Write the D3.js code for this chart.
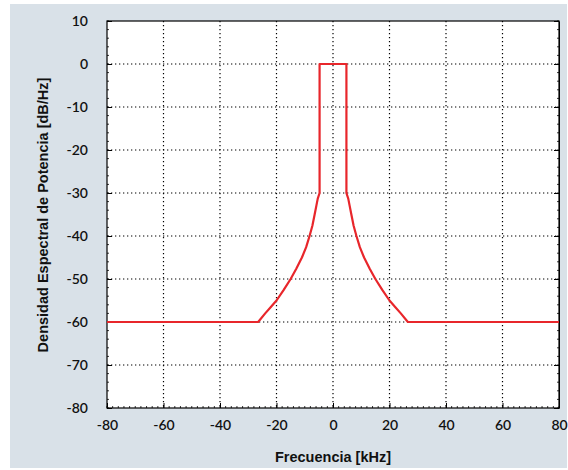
<!DOCTYPE html>
<html>
<head>
<meta charset="utf-8">
<script src="https://cdn.jsdelivr.net/npm/d3@7"></script>
<style>
  body { margin: 0; background: #fff; }
  svg text { fill: #111; }
</style>
</head>
<body>
<svg id="chart" width="568" height="470"></svg>
<script>
"use strict";

// mask (frequency in kHz, PSD in dB/Hz)
var freqs = [-80, -26.5, -24, -22, -20, -17.5, -15, -13, -11, -9.5, -8.3, -7.3, -6.5, -5.9, -5.4, -4.75, -4.75,
             4.75, 4.75, 5.4, 5.9, 6.5, 7.3, 8.3, 9.5, 11, 13, 15, 17.5, 20, 22, 24, 26.5, 80];
var psd   = [-60, -60, -58, -56.5, -55, -52.6, -50, -47.6, -45, -42.6, -40, -37.6, -35, -33, -31.3, -30, 0,
             0, -30, -31.3, -33, -35, -37.6, -40, -42.6, -45, -47.6, -50, -52.6, -55, -56.5, -58, -60, -60];

var xTicks = [-80, -60, -40, -20, 0, 20, 40, 60, 80];
var yTicks = [10, 0, -10, -20, -30, -40, -50, -60, -70, -80];

var svg = d3.select("#chart");
var margin = {left: 107, top: 21, right: 559, bottom: 408};

svg.append("rect")
  .attr("x", 10).attr("y", 4).attr("width", 557).attr("height", 464)
  .attr("fill", "#d9e1e8");

var x = d3.scaleLinear().domain([-80, 80]).range([margin.left, margin.right]);
var y = d3.scaleLinear().domain([-80, 10]).range([margin.bottom, margin.top]);

svg.append("rect")
  .attr("x", margin.left).attr("y", margin.top)
  .attr("width", margin.right - margin.left).attr("height", margin.bottom - margin.top)
  .attr("fill", "#fff");

// dotted grid
var grid = svg.append("g").attr("stroke", "#000").attr("stroke-width", 1.2).attr("stroke-dasharray", "1.3,2.7");
grid.selectAll(".gx").data(xTicks.slice(1, -1)).enter().append("line")
  .attr("x1", d => x(d)).attr("x2", d => x(d))
  .attr("y1", margin.top).attr("y2", margin.bottom);
grid.selectAll(".gy").data(yTicks.slice(1, -1)).enter().append("line")
  .attr("y1", d => y(d)).attr("y2", d => y(d))
  .attr("x1", margin.left).attr("x2", margin.right);

// minor ticks
var minor = svg.append("g").attr("stroke", "#000").attr("stroke-width", 0.8);
minor.selectAll(".mx").data(d3.range(-80, 81, 2)).enter().append("line")
  .attr("x1", d => x(d)).attr("x2", d => x(d))
  .attr("y1", margin.bottom).attr("y2", margin.bottom - 2);
minor.selectAll(".my").data(d3.range(-80, 11, 2)).enter().append("line")
  .attr("y1", d => y(d)).attr("y2", d => y(d))
  .attr("x1", margin.left).attr("x2", margin.left + 2);
minor.selectAll(".myr").data(d3.range(-80, 11, 2)).enter().append("line")
  .attr("y1", d => y(d)).attr("y2", d => y(d))
  .attr("x1", margin.right).attr("x2", margin.right - 2);

// axes with inward ticks, plain hyphen for negatives
var fmt = d => String(d);
var xAxis = svg.append("g").attr("transform", "translate(0," + margin.bottom + ")")
  .call(d3.axisBottom(x).tickValues(xTicks).tickFormat(fmt).tickSizeInner(-5).tickSizeOuter(0).tickPadding(12));
var yAxis = svg.append("g").attr("transform", "translate(" + margin.left + ",0)")
  .call(d3.axisLeft(y).tickValues(yTicks).tickFormat(fmt).tickSizeInner(-5).tickSizeOuter(0).tickPadding(19));
svg.append("g").attr("transform", "translate(" + margin.right + ",0)")
  .call(d3.axisRight(y).tickValues(yTicks).tickSizeInner(-5).tickSizeOuter(0).tickFormat(""));
[xAxis, yAxis].forEach(function(a){
  a.selectAll("text").style("font-family", "Lato, 'Open Sans', sans-serif")
    .style("font-size", "14px").style("font-weight", "600").attr("fill", "#111");
  a.select(".domain").remove();
});
svg.selectAll(".tick line").attr("stroke", "#000");

svg.append("rect")
  .attr("x", margin.left).attr("y", margin.top)
  .attr("width", margin.right - margin.left).attr("height", margin.bottom - margin.top)
  .attr("fill", "none").attr("stroke", "#000").attr("stroke-width", 1.2);

// mask line
var line = d3.line().x(d => x(d[0])).y(d => y(d[1]));
svg.append("path")
  .datum(d3.zip(freqs, psd))
  .attr("d", line)
  .attr("fill", "none").attr("stroke", "#e8262b").attr("stroke-width", 2.2)
  .attr("stroke-linejoin", "round");

// axis titles
svg.append("text")
  .attr("x", 333).attr("y", 462).attr("text-anchor", "middle")
  .style("font-family", "'Liberation Sans', Arial, sans-serif").style("font-size", "14.5px").style("font-weight", "bold")
  .text("Frecuencia [kHz]");
svg.append("text")
  .attr("transform", "translate(48,215) rotate(-90)").attr("text-anchor", "middle")
  .style("font-family", "'Liberation Sans', Arial, sans-serif").style("font-size", "14.5px").style("font-weight", "bold")
  .text("Densidad Espectral de Potencia [dB/Hz]");
</script>
</body>
</html>
